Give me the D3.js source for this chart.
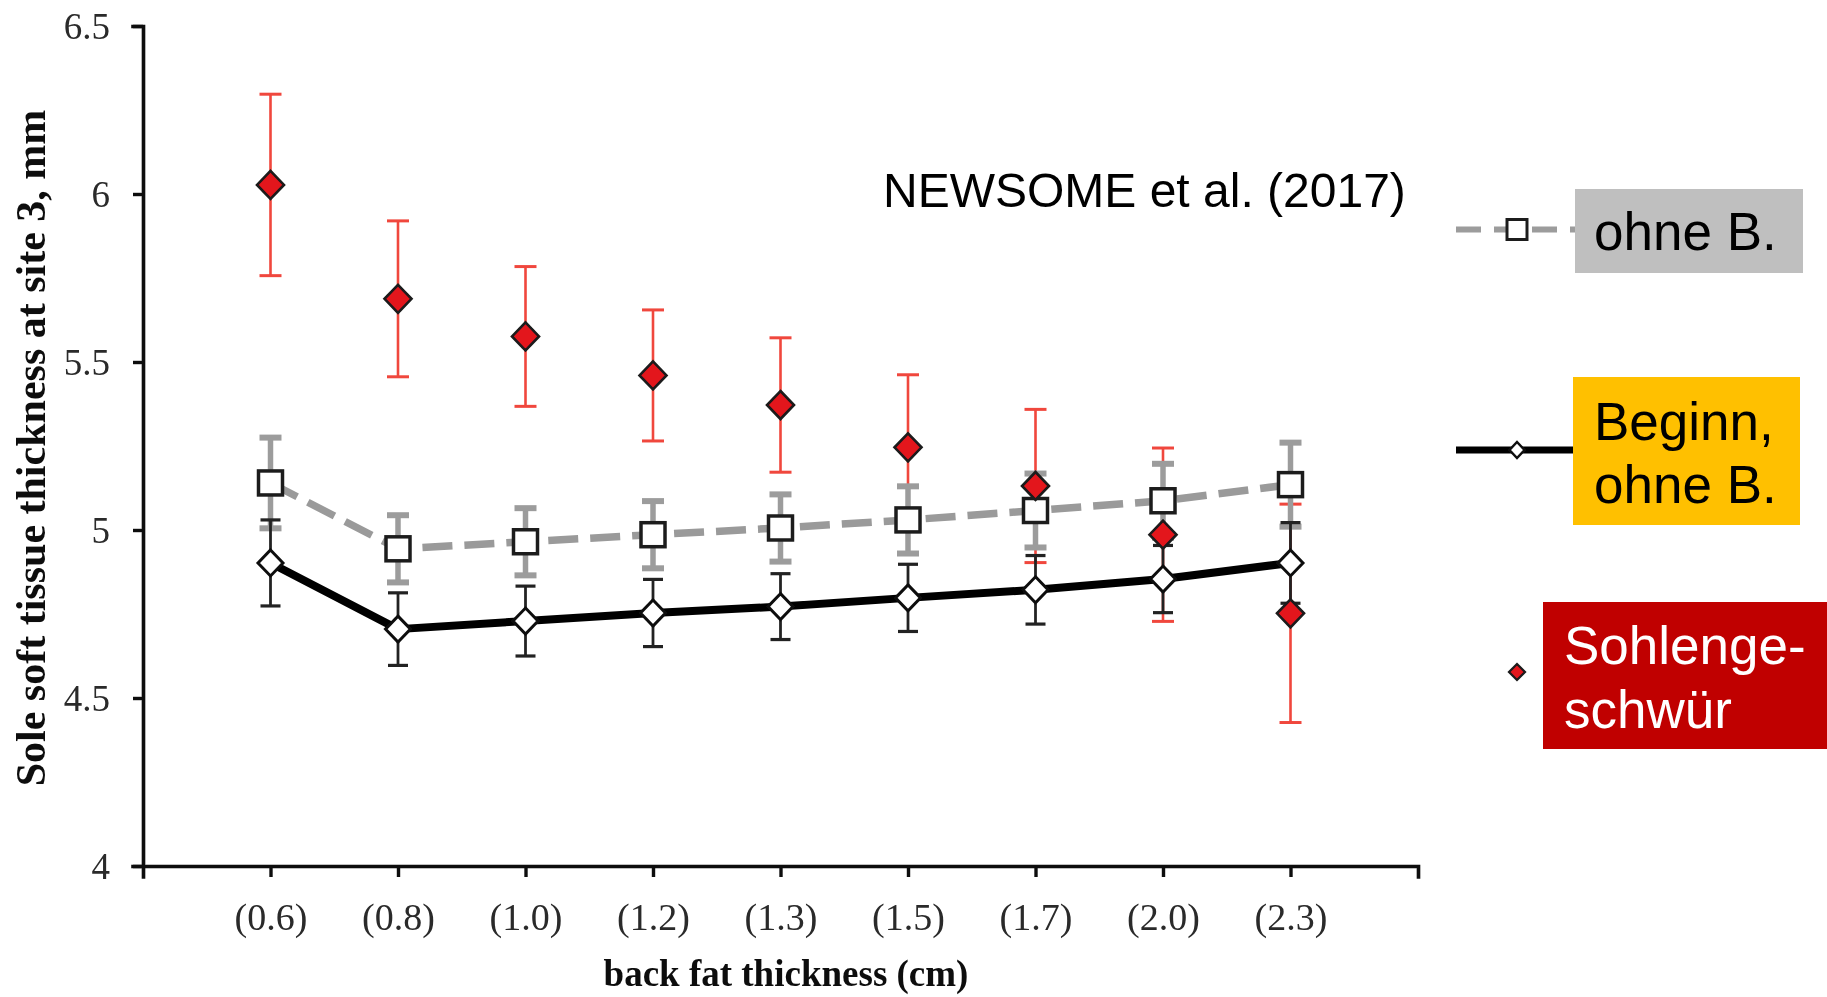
<!DOCTYPE html>
<html>
<head>
<meta charset="utf-8">
<script src="https://cdn.jsdelivr.net/npm/d3@7"></script>
<style>
  html, body { margin: 0; padding: 0; background: #fff; }
  svg { display: block; }
</style>
</head>
<body>
<svg id="chart" width="1827" height="997"></svg>
<script>
// Back fat thickness classes (cm)
const categories = ["(0.6)", "(0.8)", "(1.0)", "(1.2)", "(1.3)", "(1.5)", "(1.7)", "(2.0)", "(2.3)"];

// Sole soft tissue thickness at site 3 (mm): means and error half-widths
const ohneMean   = [5.14, 4.944, 4.965, 4.986, 5.006, 5.03, 5.058, 5.087, 5.135];
const ohneErr    = [0.135, 0.10, 0.10, 0.10, 0.10, 0.10, 0.11, 0.11, 0.125];
const beginnMean = [4.902, 4.705, 4.729, 4.753, 4.772, 4.798, 4.822, 4.854, 4.902];
const beginnErr  = [0.128, 0.108, 0.104, 0.10, 0.098, 0.10, 0.102, 0.10, 0.12];
const ulcerMean  = [6.027, 5.688, 5.576, 5.46, 5.372, 5.246, 5.131, 4.986, 4.752];
const ulcerErr   = [0.27, 0.232, 0.208, 0.195, 0.20, 0.216, 0.228, 0.258, 0.325];

const yTicks      = [4, 4.5, 5, 5.5, 6, 6.5];
const yTickLabels = ["4", "4.5", "5", "5.5", "6", "6.5"];

const svg = d3.select("#chart");
const SERIF = "'Liberation Serif', 'Times New Roman', serif";
const SANS  = "'Liberation Sans', Arial, sans-serif";

const defs = svg.append("defs");
defs.append("filter").attr("id", "soft")
  .attr("x", "-5%").attr("y", "-5%").attr("width", "110%").attr("height", "110%")
  .append("feGaussianBlur").attr("stdDeviation", 0.7);

const x = d3.scalePoint().domain(categories).range([143, 1418]).padding(1);
const y = d3.scaleLinear().domain([4, 6.5]).range([866, 26]);

const plot = svg.append("g").attr("filter", "url(#soft)");

// ---- axes ----
const gy = plot.append("g")
  .attr("transform", "translate(143,0)")
  .call(d3.axisLeft(y).tickValues(yTicks)
    .tickFormat((d, i) => yTickLabels[i])
    .tickSize(10).tickSizeOuter(10).tickPadding(23));

const gx = plot.append("g")
  .attr("transform", "translate(0,866)")
  .call(d3.axisBottom(x).tickSize(11).tickSizeOuter(11).tickPadding(20));

[gx, gy].forEach(g => {
  g.select(".domain").attr("stroke", "#111").attr("stroke-width", 3.6)
    .attr("stroke-linecap", "square").attr("fill", "none");
  g.selectAll(".tick line").attr("stroke", "#111").attr("stroke-width", 3.4);
  g.selectAll(".tick text").attr("font-family", SERIF).attr("fill", "#2a2a2a");
});
gy.selectAll(".tick text").attr("font-size", 37).attr("dy", "0.33em");
gx.selectAll(".tick text").attr("font-size", 38).attr("y", 64).attr("dy", 0);

// axis titles
plot.append("text")
  .attr("x", 786).attr("y", 986)
  .attr("text-anchor", "middle")
  .attr("font-family", SERIF).attr("font-weight", "bold").attr("font-size", 37)
  .attr("fill", "#111")
  .text("back fat thickness (cm)");

plot.append("text")
  .attr("transform", "translate(45,448) rotate(-90)")
  .attr("text-anchor", "middle")
  .attr("font-family", SERIF).attr("font-weight", "bold").attr("font-size", 42)
  .attr("fill", "#111")
  .text("Sole soft tissue thickness at site 3, mm");

// ---- helpers ----
function errorBars(g, means, errs, color, width, capHalf, capWidth) {
  const eb = g.append("g").attr("stroke", color).attr("fill", "none");
  categories.forEach((c, i) => {
    const cx = x(c), y0 = y(means[i] - errs[i]), y1 = y(means[i] + errs[i]);
    eb.append("line").attr("x1", cx).attr("x2", cx).attr("y1", y0).attr("y2", y1)
      .attr("stroke-width", width);
    [y0, y1].forEach(yy => eb.append("line")
      .attr("x1", cx - capHalf).attr("x2", cx + capHalf)
      .attr("y1", yy).attr("y2", yy).attr("stroke-width", capWidth));
  });
}
const diamond = (w, h) => `M0,${-h}L${w},0L0,${h}L${-w},0Z`;
const points = means => categories.map((c, i) => [x(c), y(means[i])]);

// ---- Sohlengeschwür error bars (lowest layer) ----
const gUlcerErr = plot.append("g");
errorBars(gUlcerErr, ulcerMean, ulcerErr, "#f0463c", 2.6, 11, 3);

// ---- ohne B. (grey dashed, squares) ----
const gOhne = plot.append("g");
errorBars(gOhne, ohneMean, ohneErr, "#9c9c9c", 5.5, 11, 6);
gOhne.append("path").datum(points(ohneMean))
  .attr("d", d3.line())
  .attr("fill", "none").attr("stroke", "#9a9a9a").attr("stroke-width", 7.5)
  .attr("stroke-dasharray", "30,12");
gOhne.selectAll("rect").data(points(ohneMean)).join("rect")
  .attr("x", d => d[0] - 12).attr("y", d => d[1] - 12)
  .attr("width", 24).attr("height", 24)
  .attr("fill", "#fff").attr("stroke", "#1e1e1e").attr("stroke-width", 3.5);

// ---- Beginn, ohne B. (black solid, open diamonds) ----
const gBeg = plot.append("g");
errorBars(gBeg, beginnMean, beginnErr, "#222", 2.8, 10, 3.2);
gBeg.append("path").datum(points(beginnMean))
  .attr("d", d3.line())
  .attr("fill", "none").attr("stroke", "#000").attr("stroke-width", 8)
  .attr("stroke-linejoin", "round");
gBeg.selectAll("path.m").data(points(beginnMean)).join("path")
  .attr("class", "m")
  .attr("transform", d => `translate(${d[0]},${d[1]})`)
  .attr("d", diamond(12.5, 13))
  .attr("fill", "#fff").attr("stroke", "#111").attr("stroke-width", 3);

// ---- Sohlengeschwür markers (top layer) ----
plot.append("g").selectAll("path").data(points(ulcerMean)).join("path")
  .attr("transform", d => `translate(${d[0]},${d[1]})`)
  .attr("d", diamond(13.5, 14))
  .attr("fill", "#e3141b").attr("stroke", "#1a1a1a").attr("stroke-width", 2.6);

// ---- source note ----
svg.append("text")
  .attr("x", 883).attr("y", 207)
  .attr("font-family", SANS).attr("font-size", 48).attr("fill", "#000")
  .text("NEWSOME et al. (2017)");

// ---- legend ----
const leg = svg.append("g");
const legSym = leg.append("g").attr("filter", "url(#soft)");
legSym.append("line").attr("x1", 1456).attr("x2", 1575).attr("y1", 229.5).attr("y2", 229.5)
  .attr("stroke", "#9c9c9c").attr("stroke-width", 6).attr("stroke-dasharray", "25,13");
legSym.append("rect").attr("x", 1507).attr("y", 219.5).attr("width", 20).attr("height", 20)
  .attr("fill", "#fff").attr("stroke", "#1e1e1e").attr("stroke-width", 3);
legSym.append("line").attr("x1", 1456).attr("x2", 1575).attr("y1", 450).attr("y2", 450)
  .attr("stroke", "#000").attr("stroke-width", 7);
legSym.append("path").attr("transform", "translate(1517,450)").attr("d", diamond(7.5, 8))
  .attr("fill", "#fff").attr("stroke", "#111").attr("stroke-width", 2.5);
legSym.append("path").attr("transform", "translate(1517,672)").attr("d", diamond(8, 8))
  .attr("fill", "#e3141b").attr("stroke", "#1a1a1a").attr("stroke-width", 2.2);

const boxes = [
  { x: 1575, y: 189, w: 228, h: 84, fill: "#bfbfbf", color: "#000", tx: 1594, lines: ["ohne B."], base: [250] },
  { x: 1573, y: 377, w: 227, h: 148, fill: "#ffc000", color: "#000", tx: 1594, lines: ["Beginn,", "ohne B."], base: [440, 503] },
  { x: 1543, y: 602, w: 284, h: 147, fill: "#c00000", color: "#fff", tx: 1564, lines: ["Sohlenge-", "schwür"], base: [664, 728] }
];
boxes.forEach(b => {
  leg.append("rect").attr("x", b.x).attr("y", b.y).attr("width", b.w).attr("height", b.h)
    .attr("fill", b.fill);
  b.lines.forEach((t, i) => leg.append("text")
    .attr("x", b.tx).attr("y", b.base[i])
    .attr("font-family", SANS).attr("font-size", 53).attr("fill", b.color)
    .text(t));
});
</script>
</body>
</html>
